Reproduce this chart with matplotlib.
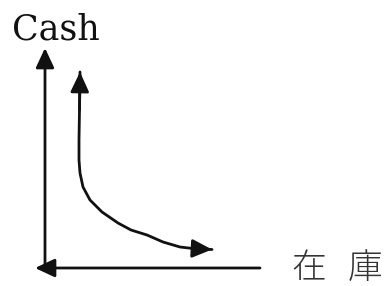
import matplotlib
matplotlib.use("Agg")
import matplotlib.pyplot as plt

# Conceptual curve: cash vs. inventory (arbitrary units, origin at axis corner)
inventory = [35, 34.5, 34, 34, 35, 38, 45, 57, 73, 86, 102, 118, 135, 148, 167]
cash = [196, 158, 128, 108, 95, 81, 68, 56, 45, 38, 33, 26, 21, 19.5, 18.5]

y_label = "Cash"
x_labels = ["在", "庫"]

fig = plt.figure(figsize=(3.89, 2.86), dpi=100)
ax = fig.add_axes([0, 0, 1, 1])
ax.set_xlim(-45, 344)
ax.set_ylim(-18, 268)
ax.axis("off")

col = "#111111"
lw = 2.0

def arrow(x0, y0, x1, y1, scale=20):
    ax.annotate("", xy=(x1, y1), xytext=(x0, y0),
                arrowprops=dict(arrowstyle="-|>,head_length=0.6,head_width=0.28",
                                color=col, lw=lw, shrinkA=0, shrinkB=0,
                                mutation_scale=scale))

# axes
arrow(0, -1.5, 0, 220)
arrow(215, 0, -10, 0)

# curve
ax.plot(inventory, cash, color=col, lw=lw, solid_capstyle="round",
        solid_joinstyle="round")
arrow(inventory[1], cash[1], inventory[0], cash[0])
arrow(inventory[-2], cash[-2], inventory[-1], cash[-1])

ax.text(-33, 228, y_label, fontsize=25, family="DejaVu Serif",
        ha="left", va="baseline", color=col)
ax.text(263.5, 0.5, x_labels[0], fontsize=25, family=["Noto Sans CJK JP"],
        fontweight="light", ha="center", va="center", color="#333333")
ax.text(320, 0.5, x_labels[1], fontsize=25, family=["Noto Sans CJK JP"],
        fontweight="light", ha="center", va="center", color="#333333")

fig.savefig("out.png", dpi=100, facecolor="white")
